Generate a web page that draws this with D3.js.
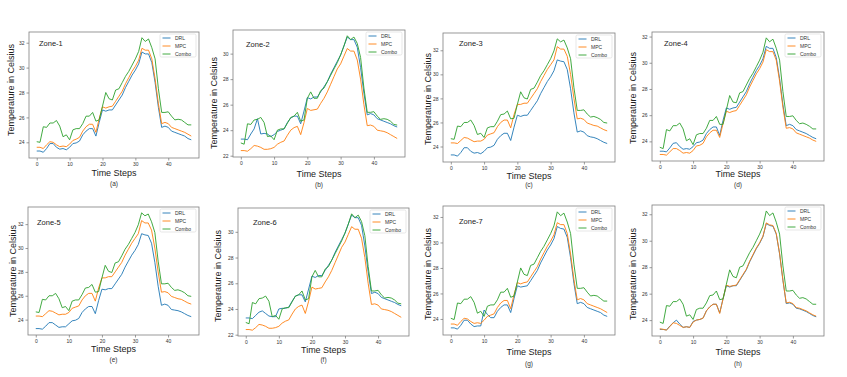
<!DOCTYPE html>
<html>
<head>
<meta charset="utf-8">
<script src="https://cdn.jsdelivr.net/npm/d3@7"></script>
<style>
  body { margin: 0; background: #fff; }
  text { font-family: "Liberation Sans", Arial, sans-serif; }
</style>
</head>
<body>
<svg id="chart"></svg>
<script>
let steps = d3.range(48)
let xTicks = [0, 10, 20, 30, 40]
let seriesNames = ['DRL', 'MPC', 'Combo']

let zone1Drl = [23.3,23.3,23.2,23.5,23.9,23.9,23.6,23.45,23.5,23.4,23.6,23.9,23.95,24.1,24.6,24.9,25.1,25.1,24.5,25.6,26.6,26.5,26.6,26.6,27.0,27.4,27.8,28.4,28.9,29.4,29.8,30.3,31.25,31.1,31.1,30.4,28.8,26.8,25.2,25.3,25.2,24.9,24.8,24.7,24.6,24.5,24.3,24.2]
let zone1Mpc = [23.6,23.6,23.5,23.8,24.05,24.0,23.8,23.65,23.7,23.65,23.85,24.15,24.25,24.4,24.9,25.25,25.45,25.45,24.8,25.9,26.85,26.75,26.85,26.9,27.3,27.7,28.1,28.7,29.2,29.7,30.1,30.6,31.55,31.4,31.4,30.7,29.1,27.1,25.5,25.6,25.5,25.2,25.1,25.0,24.9,24.8,24.65,24.5]
let zone1Combo = [24.05,24.0,25.25,25.2,25.55,25.55,25.75,25.3,24.45,24.6,24.2,25.0,25.1,25.1,25.5,26.1,26.1,26.4,25.7,25.8,26.9,28.0,27.5,27.4,28.2,28.3,28.8,29.3,29.7,30.2,30.7,31.3,32.4,32.1,32.3,31.6,30.7,28.3,26.4,26.4,26.45,26.1,25.8,25.85,25.8,25.6,25.4,25.4]

let zone2Drl = [23.3,23.3,23.25,23.7,24.1,24.9,23.7,23.75,23.7,23.5,23.65,23.9,24.0,24.1,24.6,24.95,25.1,25.1,24.5,25.5,26.55,26.45,26.6,26.6,27.0,27.4,27.8,28.4,28.9,29.4,29.9,30.6,31.3,31.1,31.1,30.5,28.9,26.9,25.2,25.3,25.2,24.9,24.8,24.7,24.6,24.5,24.35,24.25]
let zone2Mpc = [22.4,22.4,22.35,22.55,22.8,22.75,22.65,22.5,22.5,22.55,22.65,22.9,23.05,23.15,23.6,24.0,24.2,24.3,23.65,24.6,25.7,25.55,25.6,25.65,26.1,26.5,27.0,27.6,28.2,28.8,29.2,29.8,30.4,30.2,30.2,29.5,28.0,26.0,24.35,24.4,24.3,24.0,23.95,23.9,23.8,23.65,23.5,23.35]
let zone2Combo = [23.0,22.9,24.5,24.45,24.8,24.85,25.0,24.6,23.5,23.55,23.25,24.0,24.1,24.1,24.55,25.0,25.1,25.4,24.7,24.8,26.5,27.0,26.5,26.5,27.1,27.3,27.8,28.3,28.8,29.3,29.9,30.6,31.4,31.1,31.3,30.8,29.7,27.3,25.4,25.4,25.45,25.1,24.85,24.9,24.85,24.7,24.45,24.4]

let zone3Drl = [23.3,23.3,23.2,23.5,23.9,23.9,23.6,23.45,23.5,23.4,23.6,23.9,23.95,24.1,24.6,24.9,25.1,25.1,24.5,25.6,26.6,26.5,26.6,26.6,27.0,27.4,27.8,28.4,28.9,29.4,29.8,30.3,31.2,31.1,31.05,30.4,28.8,26.8,25.2,25.3,25.2,24.9,24.8,24.75,24.65,24.5,24.35,24.25]
let zone3Mpc = [24.3,24.3,24.25,24.5,24.75,24.7,24.55,24.4,24.45,24.45,24.6,24.95,25.05,25.15,25.65,26.0,26.2,26.2,25.55,26.65,27.5,27.5,27.6,27.6,28.0,28.4,28.8,29.4,29.9,30.4,30.8,31.2,32.3,32.1,32.1,31.5,30.0,28.0,26.3,26.35,26.25,25.95,25.85,25.75,25.7,25.55,25.4,25.3]
let zone3Combo = [24.65,24.6,25.7,25.65,26.0,26.0,26.2,25.75,25.0,25.1,24.75,25.55,25.65,25.65,26.1,26.65,26.7,26.95,26.3,26.35,27.5,28.55,28.05,27.95,28.75,28.85,29.35,29.9,30.3,30.8,31.3,31.95,32.95,32.7,32.85,32.2,31.3,28.9,27.0,27.0,27.05,26.7,26.45,26.5,26.4,26.25,26.0,25.95]

let zone4Drl = [23.25,23.25,23.2,23.5,23.85,23.9,23.6,23.4,23.45,23.4,23.6,23.9,23.95,24.1,24.6,24.9,25.1,25.1,24.45,25.6,26.55,26.45,26.55,26.6,27.0,27.4,27.8,28.4,28.9,29.4,29.8,30.3,31.25,31.1,31.1,30.4,28.8,26.8,25.2,25.3,25.2,24.9,24.8,24.7,24.6,24.45,24.3,24.2]
let zone4Mpc = [23.0,23.0,22.95,23.2,23.45,23.45,23.3,23.1,23.15,23.1,23.3,23.65,23.7,23.85,24.35,24.65,24.85,24.85,24.3,25.35,26.3,26.2,26.3,26.35,26.75,27.15,27.55,28.15,28.65,29.15,29.55,30.05,31.0,30.85,30.85,30.2,28.6,26.6,25.0,25.05,24.95,24.65,24.55,24.45,24.35,24.25,24.1,24.0]
let zone4Combo = [23.55,23.45,24.9,24.8,25.2,25.2,25.4,24.95,24.05,24.2,23.75,24.5,24.6,24.6,25.0,25.6,25.6,25.9,25.3,25.3,26.4,27.5,27.0,26.95,27.7,27.8,28.3,28.8,29.2,29.7,30.2,30.8,31.9,31.6,31.8,31.1,30.2,27.8,25.9,25.9,25.95,25.6,25.35,25.4,25.3,25.15,24.95,24.95]

let zone5Drl = [23.25,23.25,23.2,23.45,23.75,23.75,23.55,23.35,23.4,23.4,23.65,23.9,23.95,24.1,24.6,24.9,25.1,25.1,24.5,25.6,26.55,26.5,26.6,26.6,27.0,27.4,27.8,28.4,28.9,29.4,29.8,30.3,31.2,31.1,31.05,30.4,28.8,26.8,25.2,25.3,25.2,24.85,24.8,24.75,24.65,24.5,24.35,24.25]
let zone5Mpc = [24.3,24.3,24.25,24.5,24.75,24.7,24.55,24.4,24.45,24.45,24.6,24.95,25.05,25.15,25.65,26.0,26.2,26.2,25.55,26.65,27.5,27.5,27.6,27.6,28.0,28.4,28.8,29.4,29.9,30.4,30.8,31.2,32.3,32.1,32.1,31.5,30.0,28.0,26.3,26.35,26.25,25.95,25.85,25.75,25.7,25.55,25.4,25.3]
let zone5Combo = [24.65,24.6,25.7,25.65,26.0,26.0,26.2,25.75,25.0,25.1,24.75,25.55,25.65,25.65,26.1,26.65,26.7,26.95,26.3,26.35,27.5,28.55,28.05,27.95,28.75,28.85,29.35,29.9,30.3,30.8,31.3,31.95,32.95,32.7,32.85,32.2,31.3,28.9,27.0,27.0,27.05,26.7,26.45,26.5,26.4,26.25,26.0,25.95]

let zone6Drl = [23.3,23.3,23.25,23.5,23.75,23.85,23.65,23.45,23.4,23.4,24.0,24.05,24.05,24.15,24.6,25.0,25.1,25.1,24.55,25.55,26.55,26.45,26.6,26.6,27.0,27.4,27.8,28.4,28.9,29.4,29.9,30.6,31.3,31.1,31.1,30.5,28.9,26.9,25.2,25.3,25.2,24.9,24.8,24.7,24.6,24.5,24.35,24.25]
let zone6Mpc = [22.4,22.4,22.35,22.55,22.8,22.75,22.65,22.5,22.5,22.55,22.65,22.9,23.05,23.15,23.6,24.0,24.2,24.3,23.65,24.6,25.7,25.55,25.6,25.65,26.1,26.5,27.0,27.6,28.2,28.8,29.2,29.8,30.4,30.2,30.2,29.5,28.0,26.0,24.35,24.4,24.3,24.0,23.95,23.9,23.8,23.65,23.5,23.35]
let zone6Combo = [22.95,22.85,24.5,24.4,24.8,24.85,25.0,24.6,23.4,23.5,23.2,24.0,24.1,24.1,24.55,25.0,25.1,25.4,24.7,24.8,26.5,27.0,26.5,26.5,27.1,27.3,27.8,28.3,28.8,29.3,29.9,30.6,31.4,31.1,31.3,30.8,29.7,27.3,25.4,25.4,25.45,25.1,24.85,24.9,24.85,24.7,24.45,24.4]

let zone7Drl = [23.3,23.3,23.2,23.5,23.9,23.9,23.6,23.4,23.45,23.45,24.7,24.35,24.1,24.1,24.6,24.9,25.1,25.1,24.5,25.6,26.6,26.5,26.55,26.6,27.0,27.4,27.8,28.4,28.9,29.4,29.8,30.3,31.25,31.1,31.05,30.4,28.8,26.8,25.2,25.3,25.2,24.9,24.8,24.7,24.6,24.5,24.3,24.2]
let zone7Mpc = [23.6,23.6,23.5,23.8,24.05,24.0,23.8,23.65,23.7,23.65,23.9,24.2,24.3,24.4,24.9,25.25,25.45,25.45,24.8,25.9,26.85,26.75,26.85,26.9,27.3,27.7,28.1,28.7,29.2,29.7,30.1,30.6,31.55,31.4,31.4,30.7,29.1,27.1,25.5,25.6,25.5,25.2,25.1,25.0,24.9,24.8,24.65,24.5]
let zone7Combo = [24.05,23.95,25.25,25.2,25.55,25.55,25.75,25.3,24.45,24.6,24.2,25.0,25.1,25.1,25.5,26.1,26.1,26.4,25.7,25.8,26.9,28.0,27.5,27.4,28.2,28.3,28.8,29.3,29.7,30.2,30.7,31.3,32.4,32.1,32.3,31.6,30.7,28.3,26.4,26.4,26.45,26.1,25.8,25.85,25.8,25.6,25.4,25.4]

let zone8Drl = [23.3,23.3,23.25,23.55,23.8,24.0,23.7,23.45,23.5,23.45,23.9,24.0,24.05,24.15,24.7,25.0,25.2,25.2,24.55,25.6,26.6,26.5,26.6,26.6,27.0,27.4,27.8,28.4,28.9,29.4,29.8,30.3,31.3,31.15,31.1,30.5,29.0,27.0,25.25,25.3,25.2,24.9,24.85,24.75,24.65,24.5,24.35,24.25]
let zone8Mpc = [23.35,23.3,23.25,23.5,23.8,23.75,23.6,23.45,23.5,23.45,23.85,24.0,24.05,24.15,24.7,25.0,25.2,25.2,24.5,25.6,26.65,26.55,26.6,26.65,27.05,27.45,27.85,28.45,28.95,29.45,29.85,30.35,31.35,31.2,31.15,30.55,29.05,27.05,25.3,25.35,25.25,24.95,24.9,24.8,24.7,24.55,24.4,24.3]
let zone8Combo = [23.85,23.75,25.1,25.05,25.4,25.4,25.6,25.2,24.3,24.4,24.05,24.8,24.9,24.9,25.3,25.85,25.9,26.2,25.55,25.6,26.7,27.8,27.3,27.2,28.0,28.1,28.6,29.1,29.5,30.0,30.5,31.1,32.25,31.9,32.1,31.4,30.5,28.1,26.2,26.2,26.25,25.9,25.65,25.7,25.6,25.4,25.2,25.2]

let colors = ['#1f77b4', '#ff7f0e', '#2ca02c']

// panel layout: plot box [left, top, right, bottom] and label spots
let panels = [
  { name: 'Zone-1', cap: '(a)', data: [zone1Drl, zone1Mpc, zone1Combo], box: [29, 32, 199, 158], yLab: [11, 90], xLabY: 173, capY: 184, zoneAt: [39, 43] },
  { name: 'Zone-2', cap: '(b)', data: [zone2Drl, zone2Mpc, zone2Combo], box: [233, 30, 405, 157], yLab: [214, 103], xLabY: 174, capY: 185, zoneAt: [246, 44] },
  { name: 'Zone-3', cap: '(c)', data: [zone3Drl, zone3Mpc, zone3Combo], box: [443, 33, 615, 162], yLab: [428, 99], xLabY: 176, capY: 185, zoneAt: [459, 43] },
  { name: 'Zone-4', cap: '(d)', data: [zone4Drl, zone4Mpc, zone4Combo], box: [652, 32, 824, 161], yLab: [633, 98], xLabY: 174, capY: 185, zoneAt: [664, 43] },
  { name: 'Zone-5', cap: '(e)', data: [zone5Drl, zone5Mpc, zone5Combo], box: [28, 207, 199, 335], yLab: [13, 271], xLabY: 349, capY: 360, zoneAt: [37, 222] },
  { name: 'Zone-6', cap: '(f)', data: [zone6Drl, zone6Mpc, zone6Combo], box: [238, 208, 409, 336], yLab: [218, 276], xLabY: 350, capY: 360, zoneAt: [253, 222] },
  { name: 'Zone-7', cap: '(g)', data: [zone7Drl, zone7Mpc, zone7Combo], box: [443, 206, 615, 335], yLab: [428, 274], xLabY: 352, capY: 364, zoneAt: [459, 221] },
  { name: '', cap: '(h)', data: [zone8Drl, zone8Mpc, zone8Combo], box: [652, 205, 824, 336], yLab: [633, 274], xLabY: 352, capY: 364, zoneAt: [664, 221] }
]

let svg = d3.select('#chart')
  .attr('width', 847)
  .attr('height', 377)

svg.append('rect').attr('width', 847).attr('height', 377).attr('fill', '#fff')

function drawPanel (p) {
  let [left, top, right, bottom] = p.box
  let all = p.data.flat()
  let lo = d3.min(all)
  let hi = d3.max(all)
  let pad = (hi - lo) * 0.05

  let x = d3.scaleLinear()
    .domain([-47 * 0.05, 47 * 1.05])
    .range([left, right])
  let y = d3.scaleLinear()
    .domain([lo - pad, hi + pad])
    .range([bottom, top])

  let g = svg.append('g')

  let xAxis = g.append('g')
    .attr('transform', `translate(0, ${bottom})`)
    .call(d3.axisBottom(x).tickValues(xTicks).tickSize(2.5).tickPadding(1.5))
  let yAxis = g.append('g')
    .attr('transform', `translate(${left}, 0)`)
    .call(d3.axisLeft(y).ticks(5).tickFormat(d3.format('d')).tickSize(2.5).tickPadding(2))

  ;[xAxis, yAxis].forEach((a) => {
    a.select('.domain').remove()
    a.selectAll('line').attr('stroke', '#555').attr('stroke-width', 0.6)
    a.selectAll('text').attr('font-size', 5).attr('fill', '#333')
      .style('font-family', '"Liberation Sans", Arial, sans-serif')
  })

  let line = d3.line()
    .x((d, i) => x(steps[i]))
    .y((d) => y(d))

  p.data.forEach((s, k) => {
    g.append('path')
      .datum(s)
      .attr('d', line)
      .attr('fill', 'none')
      .attr('stroke', colors[k])
      .attr('stroke-width', 0.9)
  })

  g.append('rect')
    .attr('x', left).attr('y', top)
    .attr('width', right - left).attr('height', bottom - top)
    .attr('fill', 'none').attr('stroke', '#7f7f7f').attr('stroke-width', 0.8)

  // legend
  let lw = 36
  let lh = 23
  let lx = right - lw - 3
  let ly = top + 2
  let leg = g.append('g').attr('transform', `translate(${lx}, ${ly})`)
  leg.append('rect')
    .attr('width', lw).attr('height', lh).attr('rx', 1.5)
    .attr('fill', '#fff').attr('stroke', '#d6d6d6').attr('stroke-width', 0.6)
  seriesNames.forEach((n, k) => {
    let yy = 4 + k * 8
    leg.append('line')
      .attr('x1', 2.5).attr('x2', 10.5).attr('y1', yy).attr('y2', yy)
      .attr('stroke', colors[k]).attr('stroke-width', 0.9)
    leg.append('text')
      .attr('x', 15).attr('y', yy).attr('dy', '0.35em')
      .attr('font-size', 5).attr('fill', '#333')
      .text(n)
  })

  if (p.name) {
    g.append('text')
      .attr('x', p.zoneAt[0]).attr('y', p.zoneAt[1])
      .attr('dy', '0.35em')
      .attr('font-size', 7.5).attr('fill', '#222')
      .text(p.name)
  }

  let cx = (left + right) / 2

  g.append('text')
    .attr('transform', `translate(${p.yLab[0]}, ${p.yLab[1]}) rotate(-90)`)
    .attr('text-anchor', 'middle').attr('dy', '0.35em')
    .attr('font-size', 9.5).attr('fill', '#222')
    .attr('textLength', 92).attr('lengthAdjust', 'spacingAndGlyphs')
    .text('Temperature in Celsius')

  g.append('text')
    .attr('x', cx).attr('y', p.xLabY)
    .attr('text-anchor', 'middle').attr('dy', '0.35em')
    .attr('font-size', 9.5).attr('fill', '#222')
    .attr('textLength', 45).attr('lengthAdjust', 'spacingAndGlyphs')
    .text('Time Steps')

  g.append('text')
    .attr('x', cx).attr('y', p.capY)
    .attr('text-anchor', 'middle').attr('dy', '0.35em')
    .attr('font-size', 6.5).attr('fill', '#333')
    .text(p.cap)
}

panels.forEach(drawPanel)
</script>
</body>
</html>
